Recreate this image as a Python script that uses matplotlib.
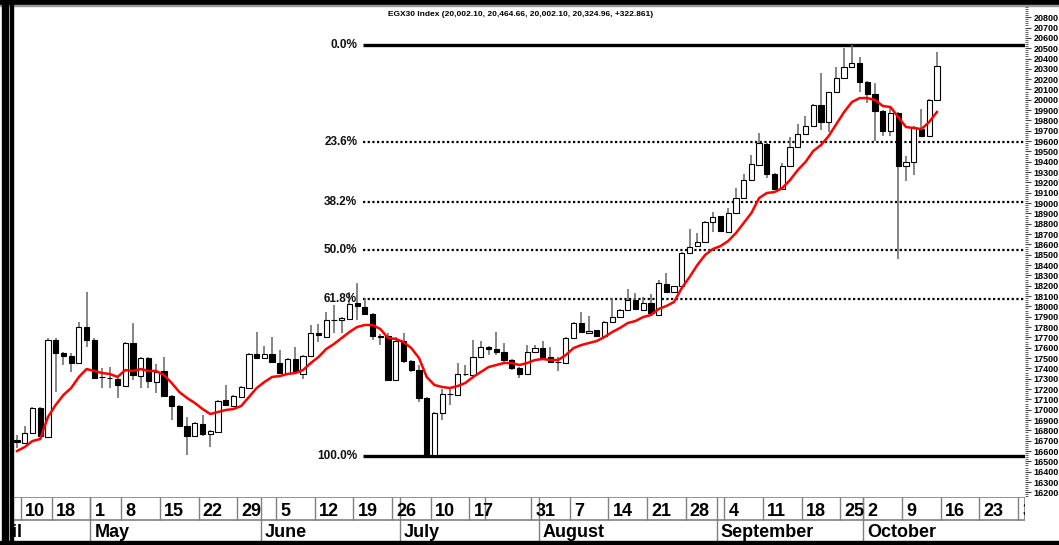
import numpy as np
import matplotlib.pyplot as plt
import matplotlib.transforms as mtrans
from matplotlib.patches import Rectangle
from matplotlib.ticker import FixedLocator

plt.rcParams['font.family'] = ['Liberation Sans', 'DejaVu Sans']

# daily OHLC of the EGX30 index, one entry per trading day
opens = [16707, 16678, 16775, 17017, 16736, 17675, 17549, 17520, 17452, 17801,
         17675, 17320, 17310, 17297, 17229, 17646, 17326, 17501, 17268, 17375,
         17133, 17036, 16842, 16745, 16862, 16765, 16784, 17094, 17036, 17123,
         17210, 17539, 17501, 17539, 17452, 17355, 17491, 17346, 17520, 17743,
         17704, 17868, 17868, 17878, 18033, 17994, 17926, 17713, 17713, 17287,
         17665, 17471, 17384, 17113, 16561, 16968, 17152, 17142, 17346, 17336,
         17510, 17607, 17588, 17559, 17481, 17404, 17346, 17559, 17598, 17510,
         17462, 17452, 17694, 17839, 17743, 17771, 17713, 17849, 17897, 17965,
         18062, 17965, 18033, 17917, 18217, 18139, 18197, 18517, 18585, 18623,
         18817, 18875, 18720, 18904, 19049, 19223, 19369, 19572, 19282, 19136,
         19359, 19543, 19669, 19746, 19950, 19785, 20075, 20211, 20317, 20356,
         20172, 20056, 19891, 19698, 19872, 19359, 19398, 19717, 19650, 20002.10]
highs = [16755, 16842, 17030, 17025, 17690, 17690, 17559, 17549, 17849, 18139,
         17690, 17404, 17414, 17305, 17656, 17839, 17510, 17510, 17442, 17510,
         17140, 17045, 16929, 16880, 16949, 16800, 17090, 17239, 17140, 17228,
         17545, 17752, 17617, 17704, 17578, 17500, 17607, 17530, 17820, 17830,
         17946, 18014, 17895, 18139, 18226, 18081, 17936, 17733, 17743, 17704,
         17743, 17480, 17433, 17120, 16975, 17200, 17210, 17452, 17433, 17675,
         17665, 17615, 17752, 17646, 17490, 17410, 17626, 17626, 17665, 17607,
         17510, 17700, 17849, 17946, 17907, 17775, 17855, 18081, 17975, 18168,
         18130, 18091, 18120, 18255, 18323, 18200, 18525, 18749, 18710, 18826,
         18914, 18880, 18952, 19146, 19282, 19466, 19679, 19580, 19290, 19388,
         19640, 19766, 19843, 19955, 20259, 20080, 20317, 20501, 20530, 20414,
         20180, 20162, 19900, 19920, 19880, 19456, 19745, 19911, 20005, 20464.66]
lows = [16629, 16668, 16765, 16735, 16730, 17171, 17433, 17365, 17442, 17607,
        17297, 17210, 17210, 17113, 17220, 17288, 17210, 17210, 17162, 17125,
        16900, 16832, 16561, 16735, 16745, 16639, 16775, 17040, 17030, 17115,
        17200, 17495, 17495, 17452, 17346, 17346, 17355, 17297, 17510, 17655,
        17694, 17743, 17743, 17868, 17868, 17917, 17675, 17626, 17280, 17280,
        17452, 17365, 17075, 16555, 16555, 16900, 17046, 17133, 17326, 17326,
        17500, 17530, 17530, 17462, 17384, 17307, 17340, 17549, 17505, 17452,
        17375, 17445, 17685, 17743, 17740, 17704, 17704, 17840, 17890, 17960,
        17965, 17955, 17926, 17907, 18130, 18130, 18190, 18507, 18575, 18613,
        18720, 18720, 18715, 18900, 19040, 19214, 19360, 19243, 19126, 19126,
        19350, 19533, 19660, 19737, 19707, 19688, 20070, 20201, 20307, 20075,
        19969, 19601, 19649, 19649, 18459, 19214, 19272, 19640, 19640, 20002.10]
closes = [16687, 16775, 17017, 16745, 17675, 17549, 17520, 17452, 17801, 17675,
          17307, 17315, 17305, 17239, 17646, 17336, 17501, 17278, 17365, 17133,
          17036, 16842, 16745, 16871, 16765, 16794, 17084, 17046, 17133, 17220,
          17539, 17501, 17539, 17462, 17355, 17491, 17365, 17520, 17743, 17723,
          17868, 17873, 17888, 18023, 18004, 17926, 17713, 17708, 17287, 17665,
          17471, 17384, 17113, 16561, 16968, 17152, 17155, 17346, 17350, 17510,
          17607, 17588, 17559, 17481, 17404, 17346, 17559, 17598, 17510, 17462,
          17466, 17694, 17839, 17752, 17762, 17713, 17849, 17897, 17965, 18062,
          17975, 18033, 17936, 18226, 18139, 18197, 18517, 18575, 18623, 18817,
          18865, 18730, 18904, 19049, 19223, 19378, 19582, 19282, 19136, 19359,
          19543, 19669, 19746, 19950, 19785, 20075, 20211, 20317, 20356, 20172,
          20056, 19891, 19698, 19872, 19359, 19398, 19737, 19650, 20002.10, 20324.96]
# red moving average
moving_avg = [16600, 16639, 16697, 16716, 16929, 17046, 17142, 17210, 17317, 17394,
              17375, 17355, 17346, 17317, 17384, 17375, 17394, 17375, 17375, 17336,
              17259, 17171, 17113, 17065, 17007, 16958, 16978, 16997, 17007, 17036,
              17123, 17210, 17268, 17317, 17326, 17346, 17355, 17384, 17452, 17510,
              17588, 17636, 17694, 17752, 17801, 17820, 17820, 17781, 17694, 17685,
              17655, 17597, 17501, 17317, 17239, 17220, 17210, 17229, 17259, 17317,
              17365, 17413, 17433, 17452, 17452, 17433, 17452, 17481, 17491, 17481,
              17481, 17530, 17597, 17626, 17646, 17665, 17704, 17752, 17791, 17839,
              17859, 17897, 17917, 17975, 18004, 18043, 18178, 18284, 18400, 18497,
              18555, 18584, 18633, 18710, 18807, 18904, 19049, 19098, 19107, 19146,
              19223, 19320, 19398, 19504, 19562, 19649, 19766, 19882, 19978, 20017,
              20017, 19998, 19940, 19930, 19833, 19737, 19727, 19717, 19785, 19882]

# calendar: first trading-day index of each labelled week / month
week_labels = ["10", "18", "1", "8", "15", "22", "29", "5", "12", "19", "26", "10", "17", "",
               "31", "7", "14", "21", "28", "4", "11", "18", "25", "2", "9", "16", "23", "30"]
week_start = [1, 5, 10, 14, 19, 24, 29, 34, 39, 44, 49, 54, 59, 61,
              67, 72, 77, 82, 87, 92, 97, 102, 107, 110, 115, 120, 125, 130]
month_labels = ["April", "May", "June", "July", "August", "September", "October"]
month_start = [-5, 10, 32, 50, 68, 91, 110]

fib_ratios = [0.0, 0.236, 0.382, 0.5, 0.618, 1.0]
fib_labels = ["0.0%", "23.6%", "38.2%", "50.0%", "61.8%", "100.0%"]
fib_anchor = 45

W, H = 1059, 545
fig = plt.figure(figsize=(W / 100, H / 100), dpi=100)
ax = fig.add_axes([13 / W, 1 - 497 / H, (1025 - 13) / W, (497 - 5) / H])
axd = fig.add_axes([13 / W, 1 - 541 / H, (1025 - 13) / W, (541 - 497) / H])

xlim = (-0.52, 130.4)
x = np.arange(len(closes))
o, h, l, c = map(np.array, (opens, highs, lows, closes))
up = c >= o

# candles
ax.vlines(x, l, h, color="#6a6a6a", lw=1.15, zorder=2)
ax.bar(x, np.abs(c - o), bottom=np.minimum(o, c), width=0.68,
       color=np.where(up, "white", "black"), edgecolor="black", lw=0.8, zorder=3)
ax.plot(x, moving_avg, color="#ff0000", lw=1.8, zorder=4)

# fibonacci retracement
hi, lo = h.max(), l.min()
for r, lab in zip(fib_ratios, fib_labels):
    lvl = hi - r * (hi - lo)
    if r in (0.0, 1.0):
        ax.hlines(lvl, fib_anchor - 0.25, xlim[1], color="black", lw=2.4, zorder=1)
    else:
        ax.hlines(lvl, fib_anchor - 0.25, xlim[1], color="black", lw=1.6,
                  linestyles=(0, (1, 1.1)), zorder=1)
    ax.text(fib_anchor - 1.0, lvl, lab, ha="right", va="center", fontsize=8.5,
            fontweight="bold", color="#111111", zorder=5)

ax.set_xlim(xlim)
ax.set_ylim(16155, 20918)
ax.set_xticks([])
ax.yaxis.tick_right()
ax.yaxis.set_major_locator(FixedLocator(np.arange(16200, 20801, 100)))
ax.yaxis.set_minor_locator(FixedLocator(np.arange(16160, 20901, 20)))
ax.tick_params(axis="y", which="major", length=4, width=0.8, color="#444444",
               labelsize=6.5, pad=2)
ax.tick_params(axis="y", which="minor", length=2, width=0.6, color="#444444")
for t in ax.get_yticklabels():
    t.set_fontweight("bold")
for s in ax.spines.values():
    s.set_visible(False)

# date axis (two rows)
split = 21 / 44
axd.set_xlim(xlim)
axd.set_ylim(0, 1)
axd.axis("off")
grey = "#808080"
axd.axhline(1, color=grey, lw=1.2)
axd.axhline(split, color=grey, lw=1.2)
axd.vlines(xlim[1], split, 1, color=grey, lw=1.2)
axd.vlines(np.array(week_start) - 0.5, split, 1, color=grey, lw=1.0)
axd.vlines(np.array(month_start) - 0.5, 0, 1, color=grey, lw=1.0)
off = mtrans.offset_copy(axd.transData, fig=fig, x=3, y=0, units="points")
for s, i in zip(week_labels, week_start):
    axd.text(i - 0.5, 0.56, s, transform=off, fontsize=13, fontweight="bold",
             va="baseline", ha="left", clip_on=True)
off_m = mtrans.offset_copy(axd.transData, fig=fig, x=5, y=0, units="points")
for s, i in zip(month_labels, month_start):
    axd.text(i - 0.5, 0.08, s, transform=off_m if i < 0 else off, fontsize=13,
             fontweight="bold", va="baseline", ha="left", clip_on=True)

# frame decorations
fig.patches.append(Rectangle((0, 1 - 5 / H), 1, 5 / H, transform=fig.transFigure, color="black"))
fig.patches.append(Rectangle((0, 1 - 6 / H), 1, 1 / H, transform=fig.transFigure, color="#999999"))
fig.patches.append(Rectangle((0, 0), 1, 4 / H, transform=fig.transFigure, color="black"))
fig.patches.append(Rectangle((2 / W, 0), 6 / W, 1, transform=fig.transFigure, color="black"))
fig.patches.append(Rectangle((10 / W, 0), 3 / W, 1, transform=fig.transFigure, color="black"))

fig.text(521 / W, 1 - 14 / H, "EGX30 Index (20,002.10, 20,464.66, 20,002.10, 20,324.96, +322.861)",
         ha="center", va="center", fontsize=6, fontweight="bold")

fig.savefig("out.png", dpi=100)
